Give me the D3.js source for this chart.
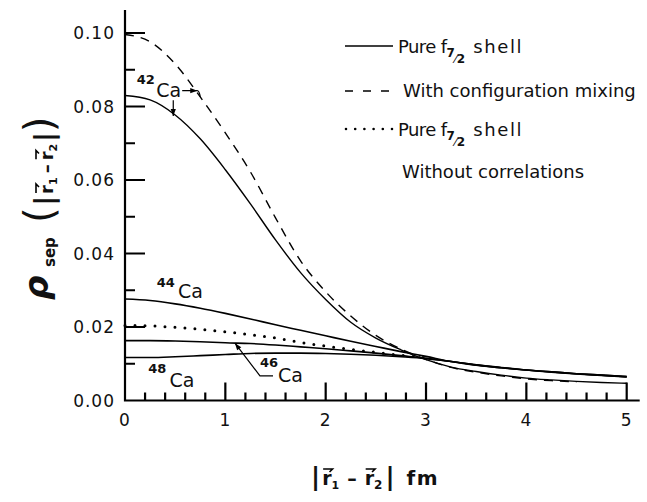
<!DOCTYPE html>
<html>
<head>
<meta charset="utf-8">
<script src="https://cdn.jsdelivr.net/npm/d3@7"></script>
<style>
  body { margin: 0; background: #fff; }
  text { font-family: "DejaVu Sans", sans-serif; fill: #111; }
</style>
</head>
<body>
<svg width="647" height="502"></svg>
<script>
// separation r = |r1 - r2| in fm
var r = [0, 0.25, 0.5, 0.75, 1, 1.25, 1.5, 1.75, 2, 2.25, 2.5, 2.75, 3, 3.25, 3.5, 3.75, 4, 4.25, 4.5, 4.75, 5];

// pure f7/2 shell
var ca42 = [0.0830, 0.0818, 0.0777, 0.0712, 0.0628, 0.0535, 0.0437, 0.0348, 0.0275, 0.0213, 0.0170, 0.0138, 0.0111, 0.0091, 0.0079, 0.0069, 0.0061, 0.0056, 0.0052, 0.0049, 0.0047];
var ca44 = [0.0276, 0.0272, 0.0263, 0.0251, 0.0237, 0.0222, 0.0206, 0.0191, 0.0176, 0.0161, 0.0147, 0.0133, 0.0120, 0.0106, 0.0097, 0.0089, 0.0083, 0.0078, 0.0073, 0.0069, 0.0065];
var ca46 = [0.0163, 0.0163, 0.0162, 0.0160, 0.0157, 0.0155, 0.0151, 0.0146, 0.0141, 0.0135, 0.0129, 0.0122, 0.0115, 0.0106, 0.0096, 0.0089, 0.0083, 0.0077, 0.0072, 0.0068, 0.0064];
var ca48 = [0.0117, 0.0117, 0.0119, 0.0122, 0.0125, 0.0128, 0.0129, 0.0129, 0.0128, 0.0126, 0.0123, 0.0119, 0.0114, 0.0106, 0.0097, 0.0090, 0.0083, 0.0078, 0.0073, 0.0069, 0.0065];
// 42Ca with configuration mixing
var ca42mix = [0.0996, 0.0976, 0.0916, 0.0826, 0.0728, 0.0622, 0.0497, 0.0380, 0.0296, 0.0230, 0.0177, 0.0140, 0.0112, 0.0090, 0.0077, 0.0067, 0.0059, 0.0054, 0.0051, null, null];
// pure f7/2 shell without correlations
var noCorr = [0.0204, 0.0203, 0.0199, 0.0194, 0.0187, 0.0179, 0.0170, 0.0158, 0.0148, 0.0139, 0.0131, 0.0123, 0.0116, null, null, null, null, null, null, null, null];

var xTicks = [0, 1, 2, 3, 4, 5];
var yTicks = [0, 0.02, 0.04, 0.06, 0.08, 0.10];
var yTickLabels = ["0.00", "0.02", "0.04", "0.06", "0.08", "0.10"];
var xMinor = [0.2, 0.4, 0.6, 0.8, 1.2, 1.4, 1.6, 1.8, 2.2, 2.4, 2.6, 2.8, 3.2, 3.4, 3.6, 3.8, 4.2, 4.4, 4.6, 4.8];
var yMinor = [0.01, 0.03, 0.05, 0.07, 0.09];

var svg = d3.select("svg");
var x = d3.scaleLinear().domain([0, 5]).range([125, 626.7]);
var y = d3.scaleLinear().domain([0, 0.1]).range([400.5, 33]);
var ink = "#000";

// axes lines
svg.append("path")
  .attr("d", "M" + x(0) + "," + (y(0.1) - 23) + "V" + (y(0) + 1) + "M" + (x(0) - 1) + "," + y(0) + "H" + (x(5) + 13))
  .attr("fill", "none").attr("stroke", ink).attr("stroke-width", 2.2);

// ticks pointing into the plot
var tickPath = "";
xMinor.forEach(function(d) { tickPath += "M" + x(d) + "," + y(0) + "v-8"; });
xTicks.slice(1).forEach(function(d) { tickPath += "M" + x(d) + "," + y(0) + "v-18"; });
yMinor.forEach(function(d) { tickPath += "M" + x(0) + "," + y(d) + "h10"; });
yTicks.slice(1).forEach(function(d) { tickPath += "M" + x(0) + "," + y(d) + "h20"; });
svg.append("path").attr("d", tickPath)
  .attr("fill", "none").attr("stroke", "#000").attr("stroke-width", 2.2);

svg.selectAll(null).data(xTicks).enter().append("text")
  .attr("x", function(d) { return x(d); }).attr("y", y(0) + 25.5)
  .attr("text-anchor", "middle").style("font-size", "17px").style("letter-spacing", "1px")
  .text(function(d) { return String(d); });
svg.selectAll(null).data(yTicks).enter().append("text")
  .attr("x", x(0) - 10).attr("y", function(d) { return y(d); }).attr("dy", "0.36em")
  .attr("text-anchor", "end").style("font-size", "17px").style("letter-spacing", "1px")
  .text(function(d, i) { return yTickLabels[i]; });

// curves
var line = d3.line()
  .defined(function(d) { return d != null; })
  .x(function(d, i) { return x(r[i]); })
  .y(function(d) { return y(d); })
  .curve(d3.curveMonotoneX);

function curve(vals, dash, width, cap) {
  svg.append("path").datum(vals).attr("d", line)
    .attr("fill", "none").attr("stroke", ink).attr("stroke-width", width)
    .attr("stroke-dasharray", dash).attr("stroke-linecap", cap || "butt");
}
curve(ca42, null, 1.4);
curve(ca42mix, "9 7", 1.4);
curve(ca44, null, 1.6);
curve(ca46, null, 1.6);
curve(ca48, null, 1.6);
curve(noCorr, "0 10", 3, "round");

// isotope labels
function isoLabel(mass, rm, vm, rc, vc) {
  svg.append("text").attr("x", x(rm)).attr("y", y(vm)).style("font-size", "13px")
    .style("font-weight", "bold").text(mass);
  svg.append("text").attr("x", x(rc)).attr("y", y(vc)).style("font-size", "19px").text("Ca");
}
isoLabel("42", 0.117, 0.0861, 0.312, 0.0825);
isoLabel("44", 0.316, 0.0309, 0.527, 0.0278);
isoLabel("48", 0.232, 0.0074, 0.444, 0.0038);
isoLabel("46", 1.345, 0.0092, 1.524, 0.0051);

function head(tip, from) {
  var dx = tip[0] - from[0], dy = tip[1] - from[1], L = Math.sqrt(dx * dx + dy * dy);
  var ux = dx / L, uy = dy / L, len = 7, hw = 2.6;
  var bx = tip[0] - ux * len, by = tip[1] - uy * len;
  svg.append("path").attr("d", "M" + tip + "L" + [bx - uy * hw, by + ux * hw] + "L" + [bx + uy * hw, by - ux * hw] + "Z")
    .attr("fill", ink);
}
function P(a, b) { return [x(a), y(b)]; }

// 42Ca arrows
var a1 = P(0.57, 0.0843), a2 = P(0.72, 0.0843), a3 = P(0.75, 0.0826);
svg.append("path").attr("d", "M" + a1 + "L" + a2 + "Q" + [a3[0] - 1, a2[1]] + " " + a3)
  .attr("fill", "none").attr("stroke", ink).attr("stroke-width", 1.2);
head(a2, a1);
var b1 = P(0.481, 0.0817), b2 = P(0.481, 0.0774);
svg.append("path").attr("d", "M" + b1 + "L" + b2).attr("stroke", ink).attr("stroke-width", 1.2);
head(b2, b1);
// 46Ca leader
var c1 = P(1.475, 0.0067), c2 = P(1.345, 0.0067), c3 = P(1.096, 0.0156);
svg.append("path").attr("d", "M" + c1 + "L" + c2 + "L" + c3).attr("fill", "none")
  .attr("stroke", ink).attr("stroke-width", 1.2);
head(c3, c2);

// legend
var lg = svg.append("g");
lg.append("path").attr("d", "M345,46H393").attr("stroke", ink).attr("stroke-width", 1.4);
lg.append("path").attr("d", "M345,91H389").attr("stroke", ink)
  .attr("stroke-width", 1.4).attr("stroke-dasharray", "8 10");
lg.append("path").attr("d", "M346,129H392").attr("stroke", ink)
  .attr("stroke-width", 2.6).attr("stroke-linecap", "round").attr("stroke-dasharray", "0 9.2");

function seq(g, x0, y0, parts) {
  var cx = x0, out = [];
  parts.forEach(function(p) {
    var t = g.append("text").attr("x", cx + (p.dx || 0)).attr("y", y0 + (p.dy || 0))
      .style("font-size", p.size + "px")
      .style("font-weight", p.bold ? "bold" : "normal")
      .style("font-style", p.italic ? "italic" : "normal")
      .style("letter-spacing", (p.ls || 0) + "px")
      .text(p.t);
    var w = t.node().getComputedTextLength();
    out.push({ x: cx + (p.dx || 0), w: w });
    cx += (p.dx || 0) + w;
  });
  return out;
}
function fLabel(y0) {
  seq(lg, 398, y0, [
    { t: "Pure f", size: 18, ls: -0.6 },
    { t: "7", size: 12, bold: true, dy: 4, dx: 0 },
    { t: "\u2044", size: 12, dy: 10, dx: 0 },
    { t: "2", size: 12, bold: true, dy: 10, dx: 0 },
    { t: "shell", size: 18, dx: 8, ls: 1.6 }
  ]);
}
fLabel(53);
seq(lg, 403, 97, [{ t: "With configuration mixing", size: 18 }]);
fLabel(136);
seq(lg, 402, 178, [{ t: "Without correlations", size: 18 }]);

// vector arrow over a letter
function vec(g, xa, xb, ya) {
  g.append("path").attr("d", "M" + [xa, ya] + "L" + [xb, ya] + "L" + [xb - 3, ya + 3])
    .attr("fill", "none").attr("stroke", ink).attr("stroke-width", 1.6);
}

// x axis title
var xt = svg.append("g");
var xp = seq(xt, 311, 485, [
  { t: "|", size: 25, bold: true },
  { t: "r", size: 19, bold: true, dx: 2 },
  { t: "1", size: 11, bold: true, dy: 4 },
  { t: "\u2013", size: 19, bold: true, dx: 8 },
  { t: "r", size: 19, bold: true, dx: 8 },
  { t: "2", size: 12, bold: true, dy: 4 },
  { t: "|", size: 25, bold: true, dx: 3 },
  { t: "fm", size: 20, bold: true, dx: 12, ls: 1.5 }
]);
vec(xt, xp[1].x + 1, xp[1].x + xp[1].w + 1, 469);
vec(xt, xp[4].x + 1, xp[4].x + xp[4].w + 1, 469);

// y axis title
var yt = svg.append("g").attr("transform", "translate(49,300) rotate(-90)");
yt.append("text").attr("x", 0).attr("y", -1).style("font-size", "34px").style("font-weight", "bold")
  .style("font-style", "italic").text("\u03c1");
yt.append("text").attr("x", 33).attr("y", 6).style("font-size", "15px").style("font-weight", "bold").text("sep");
var yp = seq(yt, 77, 4, [
  { t: "(", size: 40 },
  { t: "|", size: 26, bold: true, dx: 2 },
  { t: "r", size: 18, bold: true, dx: 2 },
  { t: "1", size: 11, bold: true, dy: 4 },
  { t: "\u2013", size: 18, bold: true, dx: 4 },
  { t: "r", size: 18, bold: true, dx: 4 },
  { t: "2", size: 11, bold: true, dy: 4 },
  { t: "|", size: 26, bold: true, dx: 2 },
  { t: ")", size: 40 }
]);
vec(yt, yp[2].x + 1, yp[2].x + yp[2].w + 1, -13);
vec(yt, yp[5].x + 1, yp[5].x + yp[5].w + 1, -13);
</script>
</body>
</html>
